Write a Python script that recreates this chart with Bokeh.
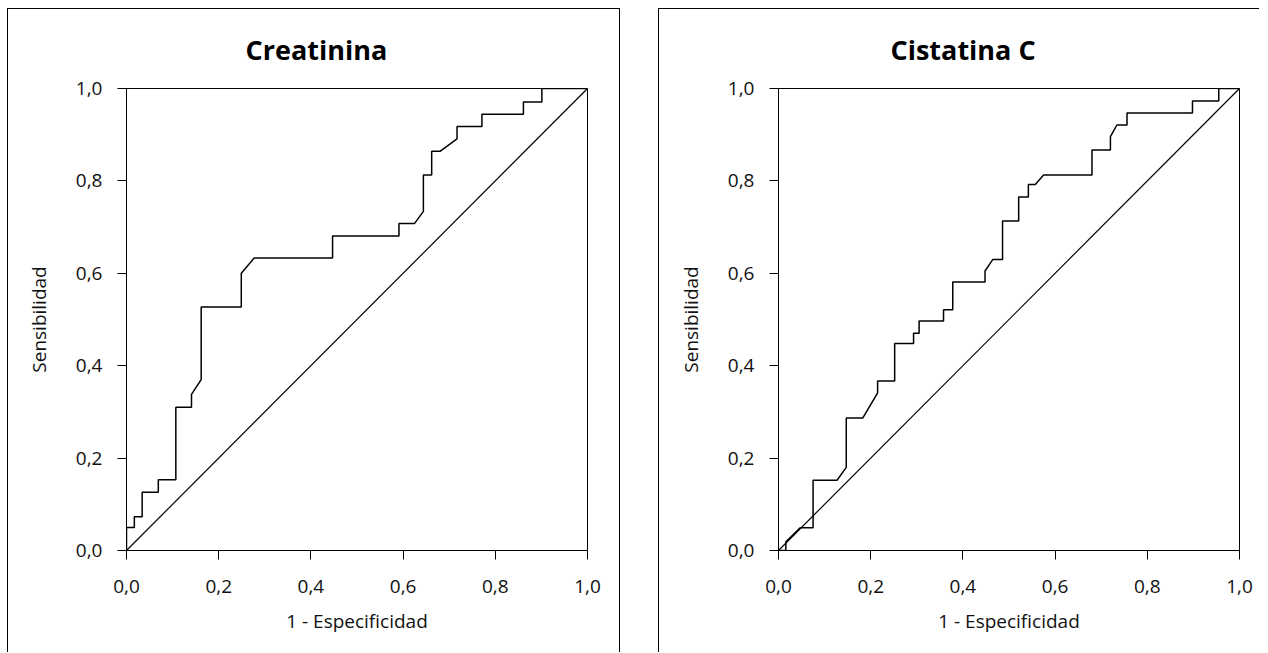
from bokeh.plotting import figure
from bokeh.layouts import row
from bokeh.models import Range1d, FixedTicker, Title
from bokeh.embed import file_html
from bokeh.resources import INLINE

# ---- data ----
titles = ["Creatinina", "Cistatina C"]
x_label = "1 - Especificidad"
y_label = "Sensibilidad"
tick_values = [0.0, 0.2, 0.4, 0.6, 0.8, 1.0]
tick_labels = ["0,0", "0,2", "0,4", "0,6", "0,8", "1,0"]

fpr_creat = [0.0, 0.0, 0.017, 0.017, 0.034, 0.034, 0.069, 0.069, 0.107, 0.107,
             0.141, 0.141, 0.162, 0.162, 0.249, 0.249, 0.277, 0.447, 0.447, 0.591,
             0.591, 0.625, 0.644, 0.644, 0.662, 0.662, 0.680, 0.717, 0.717, 0.771,
             0.771, 0.861, 0.861, 0.901, 0.901, 1.0]
tpr_creat = [0.0, 0.050, 0.050, 0.073, 0.073, 0.126, 0.126, 0.153, 0.153, 0.310,
             0.310, 0.338, 0.370, 0.527, 0.527, 0.600, 0.633, 0.633, 0.681, 0.681,
             0.708, 0.708, 0.734, 0.813, 0.813, 0.864, 0.864, 0.891, 0.918, 0.918,
             0.944, 0.944, 0.971, 0.971, 1.0, 1.0]

fpr_cist = [0.0, 0.016, 0.016, 0.047, 0.075, 0.075, 0.127, 0.147, 0.147, 0.183,
            0.215, 0.215, 0.252, 0.252, 0.293, 0.293, 0.305, 0.305, 0.358, 0.358,
            0.378, 0.378, 0.448, 0.448, 0.465, 0.486, 0.486, 0.521, 0.521, 0.542,
            0.542, 0.557, 0.575, 0.680, 0.680, 0.720, 0.720, 0.734, 0.756, 0.756,
            0.898, 0.898, 0.955, 0.955, 1.0]
tpr_cist = [0.0, 0.0, 0.019, 0.049, 0.049, 0.152, 0.152, 0.180, 0.287, 0.287,
            0.341, 0.367, 0.367, 0.448, 0.448, 0.470, 0.470, 0.497, 0.497, 0.521,
            0.521, 0.581, 0.581, 0.605, 0.630, 0.630, 0.713, 0.713, 0.765, 0.765,
            0.792, 0.792, 0.813, 0.813, 0.867, 0.867, 0.896, 0.921, 0.921, 0.947,
            0.947, 0.973, 0.973, 1.0, 1.0]

ref_x = [0.0, 1.0]
ref_y = [0.0, 1.0]

FONT = "Open Sans"
TXT = "#111111"


def make_panel(title, fx, fy, width, mbl, mbr, title_offset, styles):
    p = figure(width=width, height=644, x_range=Range1d(0, 1), y_range=Range1d(0, 1),
               output_backend="svg", toolbar_location=None,
               min_border_left=mbl, min_border_right=mbr,
               min_border_top=78, min_border_bottom=103)
    p.add_layout(Title(text=title, align="left", offset=title_offset,
                       vertical_align="middle",
                       text_font=FONT, text_font_style="bold",
                       text_font_size="27px", text_color="black", standoff=40), "above")
    p.grid.visible = False
    p.outline_line_color = "black"
    p.outline_line_alpha = 1.0
    p.outline_line_width = 1
    p.background_fill_color = "white"
    p.border_fill_color = "white"

    for ax, lab in ((p.xaxis[0], x_label), (p.yaxis[0], y_label)):
        ax.ticker = FixedTicker(ticks=tick_values)
        ax.major_label_overrides = dict(zip(tick_values, tick_labels))
        ax.axis_label = lab
        ax.axis_line_color = "black"
        ax.major_tick_line_color = "black"
        ax.major_tick_out = 9
        ax.major_tick_in = 0
        ax.minor_tick_line_color = None
        ax.major_label_text_font = FONT
        ax.major_label_text_font_size = "19px"
        ax.major_label_text_color = TXT
        ax.axis_label_text_font = FONT
        ax.axis_label_text_font_size = "19px"
        ax.axis_label_text_font_style = "normal"
        ax.axis_label_text_color = TXT
    p.xaxis.major_label_standoff = 20
    p.xaxis.axis_label_standoff = 12
    p.yaxis.major_label_standoff = 15
    p.yaxis.axis_label_standoff = 21

    p.line(ref_x, ref_y, line_color="black", line_width=1.2)
    p.line(fx, fy, line_color="black", line_width=1.5)
    p.styles = styles
    return p


p1 = make_panel(titles[0], fpr_creat, tpr_creat, 613, 118, 34, 119,
                {"border-top": "1px solid black", "border-left": "1px solid black",
                 "border-right": "1px solid black"})
p2 = make_panel(titles[1], fpr_cist, tpr_cist, 601, 119, 21, 112,
                {"border-top": "1px solid black", "border-left": "1px solid black"})

layout = row(p1, p2, spacing=38)
layout.styles = {"margin-left": "7px", "margin-top": "8px"}

open("out.html", "w").write(file_html(layout, INLINE))
